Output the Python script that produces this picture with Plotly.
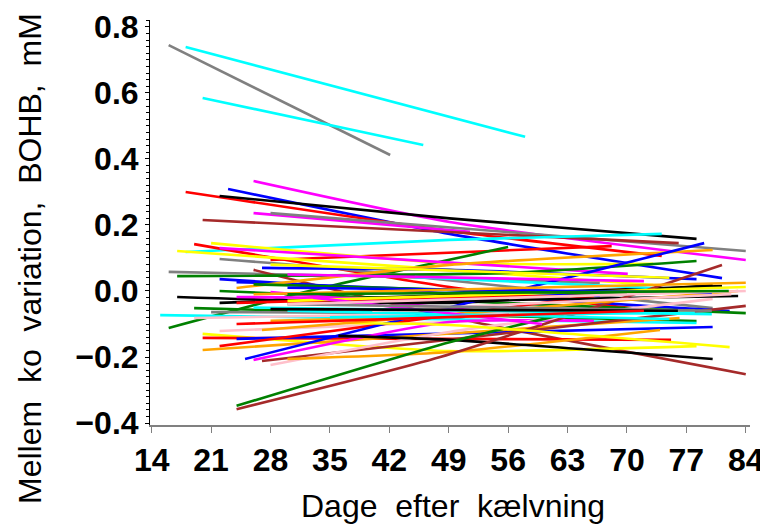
import plotly.graph_objects as go

# Per-cow fitted trajectories: colour, days after calving, between-cow BOHB variation (mM)
cow_colors = [
    "gray", "cyan", "cyan", "magenta", "blue", "red", "black", "magenta", "gray", "brown",
    "cyan", "red", "green", "yellow", "red", "magenta", "yellow", "gray", "blue", "gray",
    "brown", "green", "blue", "blue", "orange", "green", "magenta", "black", "black", "magenta",
    "green", "gray", "cyan", "pink", "pink", "yellow", "red", "blue", "red", "orange",
    "blue", "magenta", "brown", "pink", "orange", "black", "black", "cyan", "green", "brown",
    "yellow", "orange", "red", "yellow", "cyan", "pink", "orange", "magenta",
    "cyan", "cyan", "gray", "black", "green", "blue", "magenta", "yellow", "orange", "red",
    "pink", "green",
]
cow_days = [
    [16, 42.1], [18, 58], [20, 46], [26, 49.1, 84], [23, 49.1, 81.2],
    [18, 49.1, 74.1], [22, 49.1, 78.2], [26, 51.5], [28, 84], [20, 76.1],
    [18, 49.1, 74.1], [28, 68.2], [16, 33, 56], [21, 49.1, 73.1], [19, 49.1, 75],
    [22, 70.1], [17, 49.1, 73.1], [22, 37.4, 80.1], [27, 49.1, 78.2], [16, 49.1, 66.8],
    [26, 49.1, 84], [17, 56, 78.2], [22, 82.1], [24, 66.8], [24, 49.1, 80.1],
    [22, 84], [28, 66.1], [17, 49.1, 80.1], [22, 81.2], [24, 57.4],
    [19, 78.2], [21, 49.1], [15, 78.2], [19, 72.7], [22, 55],
    [20, 49.1, 78.2], [20, 75.2], [24, 80.1], [22, 66.1], [20, 76.2],
    [25, 79.1], [26, 49.1, 66.1], [27, 84], [28, 49.1, 80.1], [30, 49.1, 73.9],
    [36, 49.1, 80.1], [43, 83.1], [45, 73.1], [24, 49.1, 64.1], [24, 48, 81.2],
    [37, 49.1, 82.1], [27, 83.1], [24, 49.1, 66.1], [30, 84], [30, 75],
    [40, 82.3], [28, 78], [33, 60],
    [26, 80], [35, 78], [30, 80], [28, 76], [26, 70], [30, 80], [30, 72], [28, 75],
    [26, 84], [24, 72], [30, 84], [30, 82],
]
cow_values = [
    [0.745, 0.412], [0.739, 0.467], [0.585, 0.442], [0.333, 0.209, 0.094], [0.309, 0.173, 0.039],
    [0.300, 0.182, 0.106], [0.288, 0.220, 0.158], [0.236, 0.179], [0.236, 0.121], [0.215, 0.145],
    [0.118, 0.155, 0.173], [0.094, 0.136], [-0.112, 0.003, 0.133], [0.145, 0.085, 0.082], [0.142, 0.012, -0.064],
    [0.130, 0.052], [0.121, 0.064, 0.018], [0.097, 0.064, -0.052], [0.070, 0.064, 0.036], [0.058, 0.039, 0.024],
    [0.064, -0.079, -0.252], [0.045, 0.055, 0.091], [0.036, -0.061], [0.027, -0.015], [0.009, 0.079, 0.124],
    [0.000, -0.067], [-0.003, -0.091], [-0.018, -0.036, 0.018], [-0.036, 0.015], [-0.018, -0.027],
    [-0.052, -0.091], [-0.064, -0.067], [-0.073, -0.097], [-0.082, -0.058], [-0.121, -0.088],
    [-0.130, -0.182, -0.167], [-0.142, -0.148], [-0.145, -0.109], [-0.167, -0.015], [-0.179, -0.082],
    [-0.206, 0.145], [-0.209, -0.094, -0.091], [-0.212, -0.045], [-0.224, -0.124, -0.024], [-0.206, -0.185, -0.118],
    [-0.136, -0.148, -0.206], [-0.033, -0.015], [0.042, 0.009], [-0.348, -0.155, -0.061], [-0.358, -0.200, 0.079],
    [-0.097, -0.103, -0.170], [-0.118, 0.000], [-0.036, -0.018, -0.015], [-0.030, 0.012], [-0.060, -0.085],
    [-0.060, -0.010], [-0.090, -0.060], [-0.020, -0.100],
    [-0.050, -0.070], [-0.080, -0.065], [-0.040, -0.060], [-0.055, -0.060], [0.020, -0.010],
    [0.010, -0.005], [0.050, 0.030], [0.080, 0.040], [-0.010, 0.025], [-0.100, -0.060],
    [-0.040, 0.000], [-0.010, 0.000],
]

color_map = {
    "black": "#000000", "red": "#FF0000", "blue": "#0000FF", "green": "#008000",
    "magenta": "#FF00FF", "cyan": "#00FFFF", "yellow": "#FFFF00", "orange": "#FFA500",
    "gray": "#808080", "brown": "#A52A2A", "pink": "#FFC0CB",
}

x_ticks = [14, 21, 28, 35, 42, 49, 56, 63, 70, 77, 84]
y_ticks = [-0.4, -0.2, 0.0, 0.2, 0.4, 0.6, 0.8]

fig = go.Figure()
for c, xs, ys in zip(cow_colors, cow_days, cow_values):
    fig.add_trace(go.Scatter(x=xs, y=ys, mode="lines",
                             line=dict(color=color_map[c], width=2.6, shape="spline", smoothing=0.6),
                             showlegend=False, hoverinfo="skip"))

font_family = "Liberation Sans, Arial, Helvetica, sans-serif"
tick_font = dict(family=font_family, size=32, color="black", weight="bold")

fig.update_layout(
    width=760, height=518,
    margin=dict(l=142, r=18, t=12, b=101),
    paper_bgcolor="white", plot_bgcolor="white",
    xaxis=dict(range=[13.8, 84.5], tickvals=x_ticks, ticks="outside", ticklen=6, tickwidth=1,
               tickcolor="#808080", showline=True, linecolor="#808080", linewidth=2,
               showgrid=False, zeroline=False, tickfont=tick_font, ticklabelstandoff=0,
               automargin=False),
    yaxis=dict(range=[-0.406, 0.821], tickvals=y_ticks, tickformat=".1f", ticks="outside",
               ticklen=4, tickwidth=1, tickcolor="black", showline=True, linecolor="black",
               linewidth=1, showgrid=False, zeroline=False, tickfont=tick_font, automargin=False,
               minor=dict(dtick=0.02, ticks="outside", ticklen=3, tickcolor="black", showgrid=False)),
    annotations=[
        dict(text="Dage  efter  kælvning", xref="paper", yref="paper", x=0.505, y=-0.2,
             yanchor="middle", xanchor="center", showarrow=False,
             font=dict(family=font_family, size=32, color="black")),
        dict(text="Mellem  ko  variation,  BOHB,  mM", xref="paper", yref="paper", x=-0.2, y=0.41,
             xanchor="center", yanchor="middle", textangle=-90, showarrow=False,
             font=dict(family=font_family, size=32, color="black")),
    ],
)

fig.write_html("out.html")
